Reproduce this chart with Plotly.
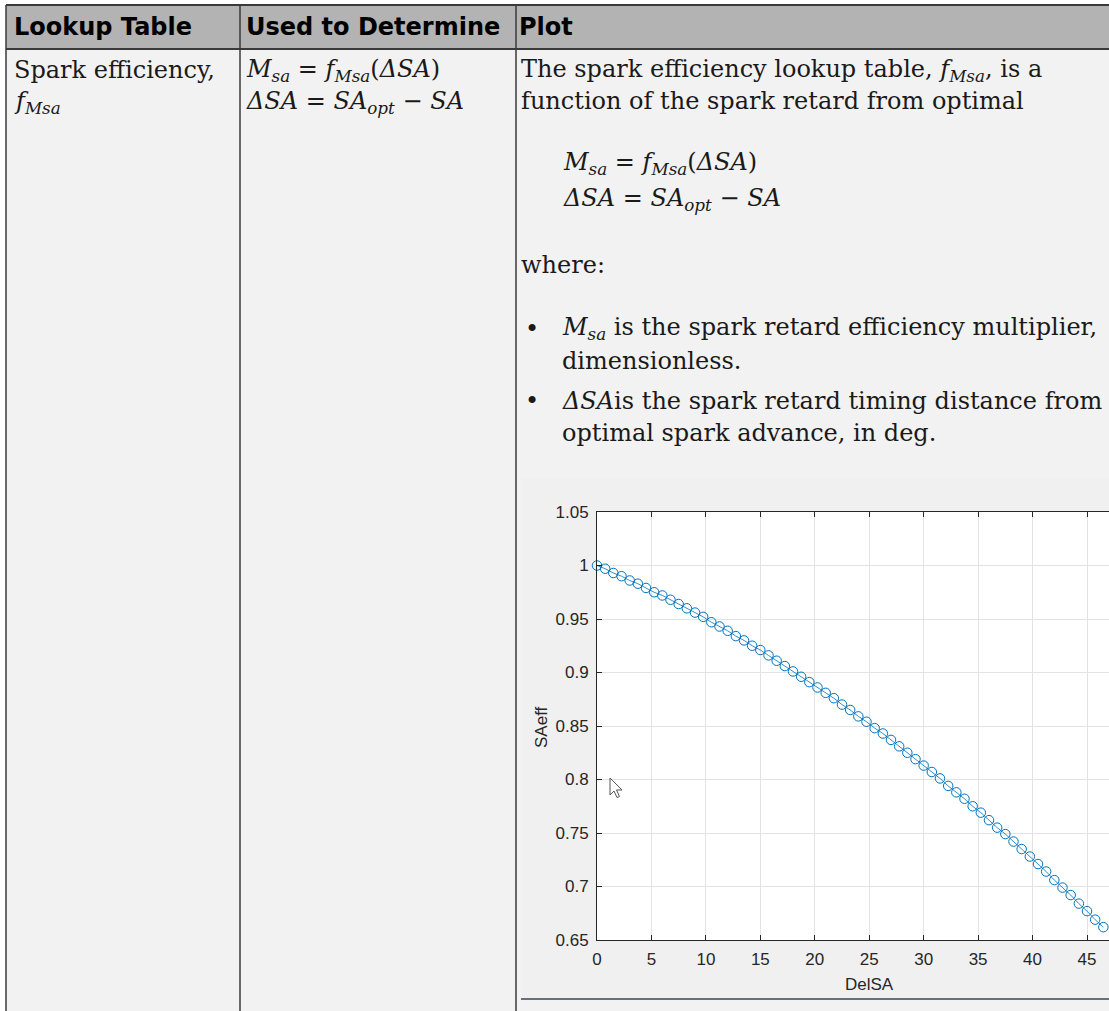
import plotly.graph_objects as go

W, H = 1109, 1011

# ---------------- data ----------------
del_sa = [0, 0.75, 1.5, 2.25, 3, 3.75, 4.5, 5.25, 6, 6.75, 7.5, 8.25, 9, 9.75,
          10.5, 11.25, 12, 12.75, 13.5, 14.25, 15, 15.75, 16.5, 17.25, 18, 18.75,
          19.5, 20.25, 21, 21.75, 22.5, 23.25, 24, 24.75, 25.5, 26.25, 27, 27.75,
          28.5, 29.25, 30, 30.75, 31.5, 32.25, 33, 33.75, 34.5, 35.25, 36, 36.75,
          37.5, 38.25, 39, 39.75, 40.5, 41.25, 42, 42.75, 43.5, 44.25, 45, 45.75,
          46.5]
sa_eff = [1.000, 0.997, 0.993, 0.990, 0.986, 0.983, 0.979, 0.975, 0.972, 0.968,
          0.964, 0.960, 0.956, 0.952, 0.947, 0.943, 0.939, 0.934, 0.930, 0.925,
          0.921, 0.916, 0.911, 0.906, 0.901, 0.896, 0.891, 0.886, 0.881, 0.876,
          0.870, 0.865, 0.859, 0.854, 0.848, 0.843, 0.837, 0.831, 0.825, 0.819,
          0.813, 0.807, 0.801, 0.794, 0.788, 0.782, 0.775, 0.769, 0.762, 0.755,
          0.749, 0.742, 0.735, 0.728, 0.721, 0.714, 0.706, 0.699, 0.692, 0.684,
          0.677, 0.669, 0.662]
x_tick_vals = [0, 5, 10, 15, 20, 25, 30, 35, 40, 45]
x_tick_text = ["0", "5", "10", "15", "20", "25", "30", "35", "40", "45"]
y_tick_vals = [0.65, 0.7, 0.75, 0.8, 0.85, 0.9, 0.95, 1.0, 1.05]
y_tick_text = ["0.65", "0.7", "0.75", "0.8", "0.85", "0.9", "0.95", "1", "1.05"]

header_cells = ["Lookup Table", "Used to Determine", "Plot"]


def px(x):
    return min(max(x / W, 0.0), 1.0)


def py(y):
    return min(max(1 - y / H, 0.0), 1.0)


fig = go.Figure()

fig.add_trace(go.Scatter(
    x=del_sa, y=sa_eff, mode="lines+markers",
    line=dict(color="#0072BD", width=0.8),
    marker=dict(symbol="circle-open", size=9.5, color="#0072BD",
                line=dict(width=1.0, color="#0072BD")),
    cliponaxis=False, showlegend=False, hoverinfo="skip"))

shapes = []
BORDER = "#3a3a3a"
shapes.append(dict(type="rect", xref="paper", yref="paper", x0=px(6), x1=1.0,
                   y0=py(49), y1=py(5), fillcolor="#b3b3b3", line=dict(width=0), layer="below"))
shapes.append(dict(type="rect", xref="paper", yref="paper", x0=px(6), x1=1.0,
                   y0=0.0, y1=py(49), fillcolor="#f2f2f2", line=dict(width=0), layer="below"))
shapes.append(dict(type="rect", xref="paper", yref="paper", x0=px(522), x1=1.0,
                   y0=py(997), y1=py(478), fillcolor="#f0f0f0", line=dict(width=0), layer="below"))
shapes.append(dict(type="rect", xref="paper", yref="paper", x0=px(597), x1=1.0,
                   y0=py(940), y1=py(512), fillcolor="#ffffff", line=dict(width=0), layer="below"))
shapes.append(dict(type="line", xref="paper", yref="paper", x0=px(6), x1=1.0,
                   y0=py(5), y1=py(5), line=dict(color=BORDER, width=2)))
shapes.append(dict(type="line", xref="paper", yref="paper", x0=px(6), x1=1.0,
                   y0=py(49), y1=py(49), line=dict(color=BORDER, width=2)))
for xv in (6, 240, 516):
    shapes.append(dict(type="line", xref="paper", yref="paper", x0=px(xv), x1=px(xv),
                       y0=0.0, y1=py(5), line=dict(color=BORDER, width=1.5)))
shapes.append(dict(type="line", xref="paper", yref="paper", x0=px(521), x1=1.0,
                   y0=py(999), y1=py(999), line=dict(color="#34445a", width=1.5)))
cur = [(0, 0), (0, 17), (4, 13), (7, 19.5), (9.5, 18.5), (6.5, 12), (12, 12)]
cx, cy = 610, 778
path = "M " + " L ".join(f"{px(cx + a):.5f},{py(cy + b):.5f}" for a, b in cur) + " Z"
shapes.append(dict(type="path", xref="paper", yref="paper", path=path,
                   fillcolor="white", line=dict(color="#555", width=1)))

ann = []
SANSB = "DejaVu Sans"
SERIF = "DejaVu Serif"


def text(x, y, s, size=24, family=SERIF, bold=False, color="#1a1a1a"):
    if bold:
        s = "<b>" + s + "</b>"
    ann.append(dict(xref="paper", yref="paper", x=px(x), y=py(y), text=s,
                    showarrow=False, xanchor="left", yanchor="middle",
                    font=dict(family=family, size=size, color=color)))


for xpos, h in zip((12, 244, 517), header_cells):
    text(xpos, 27, h, size=24, family=SANSB, bold=True, color="#000")

Msa = "<i>M</i><sub><i>sa</i></sub>"
fMsa = "<i>f</i><sub><i>Msa</i></sub>"
dSA = "<i>ΔSA</i>"
eq1 = f"{Msa} = {fMsa}({dSA})"
eq2 = f"{dSA} = <i>SA</i><sub><i>opt</i></sub> − <i>SA</i>"

text(12, 70, "Spark efficiency,")
text(12, 102, fMsa)
text(244, 70, eq1)
text(244, 102, eq2)
text(519, 70, f"The spark efficiency lookup table, {fMsa}, is a")
text(519, 101, "function of the spark retard from optimal")
text(561, 164, eq1)
text(561, 199, eq2)
text(519, 265, "where:")
text(523, 329, "•")
text(560, 329, f"{Msa} is the spark retard efficiency multiplier,")
text(560, 361, "dimensionless.")
text(523, 401, "•")
text(560, 401, f"{dSA}is the spark retard timing distance from")
text(560, 433, "optimal spark advance, in deg.")

ann.append(dict(xref="paper", yref="paper", x=px(869), y=py(984), text="DelSA",
                showarrow=False, xanchor="center", yanchor="middle",
                font=dict(family="Liberation Sans", size=17, color="#262626")))
ann.append(dict(xref="paper", yref="paper", x=px(541), y=py(727), text="SAeff",
                showarrow=False, xanchor="center", yanchor="middle", textangle=-90,
                font=dict(family="Liberation Sans", size=17, color="#262626")))

fig.update_layout(
    width=W, height=H,
    margin=dict(l=0, r=0, t=0, b=0, pad=0, autoexpand=False),
    paper_bgcolor="white", plot_bgcolor="white",
    shapes=shapes, annotations=ann,
    xaxis=dict(domain=[px(597), 1.0], range=[0, 47.02], tickvals=x_tick_vals,
               ticktext=x_tick_text, showgrid=True, gridcolor="#e3e3e3", gridwidth=1,
               zeroline=False, showline=True, linecolor="#262626", linewidth=1,
               mirror="ticks", ticks="inside", ticklen=5, tickcolor="#262626",
               automargin=False,
               tickfont=dict(family="Liberation Sans", size=17, color="#262626"),
               ticklabelstandoff=4),
    yaxis=dict(domain=[py(940), py(512)], range=[0.65, 1.05], tickvals=y_tick_vals,
               ticktext=y_tick_text, showgrid=True, gridcolor="#e3e3e3", gridwidth=1,
               zeroline=False, showline=True, linecolor="#262626", linewidth=1,
               mirror=False, ticks="inside", ticklen=5, tickcolor="#262626",
               automargin=False,
               tickfont=dict(family="Liberation Sans", size=17, color="#262626"),
               ticklabelstandoff=4),
)

post = ("document.documentElement.style.margin='0';"
        "document.documentElement.style.overflow='hidden';"
        "document.body.style.margin='0';document.body.style.padding='0';"
        "document.body.style.overflow='hidden';"
        "document.querySelectorAll('.main-svg').forEach(function(s){s.style.overflow='hidden';});")
fig.write_html("out.html", config={"displayModeBar": False}, post_script=post)
